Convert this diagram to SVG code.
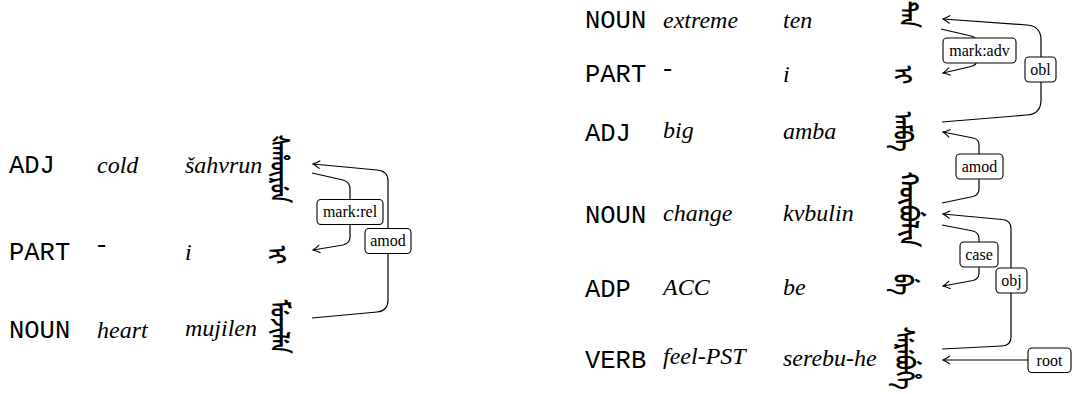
<svg xmlns="http://www.w3.org/2000/svg" width="1075" height="394" viewBox="0 0 1075 394">
<style>
.pos{font-family:"Liberation Mono","DejaVu Sans Mono",monospace;font-size:25.5px;fill:#000}
.it{font-family:"Liberation Serif","Times New Roman",serif;font-style:italic;font-size:24px;fill:#000}
.mnc{font-family:"Noto Sans Mongolian","Mongolian Baiti","Noto Sans","DejaVu Sans",sans-serif;font-size:18px;font-weight:bold;fill:#000;writing-mode:vertical-lr}
.edge{fill:none;stroke:#000;stroke-width:1.2}
.lbl rect{fill:#fff;stroke:#000;stroke-width:1.1}
.lbl text{font-family:"Liberation Serif","Times New Roman",serif;font-size:16px;text-anchor:middle;fill:#000}
</style>
<defs>
<marker id="arr" viewBox="-10 -6 12 12" refX="0" refY="0" markerWidth="12" markerHeight="12" markerUnits="userSpaceOnUse" orient="auto">
<path d="M -7 -4 Q -2.5 -1 0 0 Q -2.5 1 -7 4" fill="none" stroke="#000" stroke-width="1.1"/>
</marker>
</defs>

<!-- left sentence -->
<g id="L1">
<text class="pos" x="9" y="173">ADJ</text>
<text class="it" x="97" y="173">cold</text>
<text class="it" x="185" y="173">šahvrun</text>
<g transform="translate(286,135) scale(1.4,1)"><text class="mnc" x="0" y="0">ᡧᠠᡥᡡᡵᡠᠨ</text></g>
</g>
<g id="L2">
<text class="pos" x="9" y="260">PART</text>
<text class="pos" x="94" y="253">-</text>
<text class="it" x="185" y="260">i</text>
<g transform="translate(283,246) scale(1.4,1)"><text class="mnc" x="0" y="0">ᡳ</text></g>
</g>
<g id="L3">
<text class="pos" x="9" y="338">NOUN</text>
<text class="it" x="97" y="338">heart</text>
<text class="it" x="185" y="336">mujilen</text>
<g transform="translate(286,300) scale(1.4,1)"><text class="mnc" x="0" y="0">ᠮᡠᠵᡳᠯᡝᠨ</text></g>
</g>

<!-- right sentence -->
<g id="R1">
<text class="pos" x="585" y="28">NOUN</text>
<text class="it" x="663" y="28">extreme</text>
<text class="it" x="783" y="28">ten</text>
<g transform="translate(915,1) scale(1.4,1)"><text class="mnc" x="0" y="0">ᡨᡝᠨ</text></g>
</g>
<g id="R2">
<text class="pos" x="585" y="82">PART</text>
<text class="pos" x="660" y="77">-</text>
<text class="it" x="783" y="82">i</text>
<g transform="translate(909,66) scale(1.4,1)"><text class="mnc" x="0" y="0">ᡳ</text></g>
</g>
<g id="R3">
<text class="pos" x="585" y="141">ADJ</text>
<text class="it" x="663" y="138">big</text>
<text class="it" x="783" y="139">amba</text>
<g transform="translate(909,112) scale(1.4,1)"><text class="mnc" x="0" y="0">ᠠᠮᠪᠠ</text></g>
</g>
<g id="R4">
<text class="pos" x="585" y="223">NOUN</text>
<text class="it" x="663" y="221">change</text>
<text class="it" x="783" y="221">kvbulin</text>
<g transform="translate(915,172) scale(1.4,1.15)"><text class="mnc" x="0" y="0">ᡴᡡᠪᡠᠯᡳᠨ</text></g>
</g>
<g id="R5">
<text class="pos" x="585" y="297">ADP</text>
<text class="it" x="663" y="295">ACC</text>
<text class="it" x="783" y="295">be</text>
<g transform="translate(909,274) scale(1.4,1)"><text class="mnc" x="0" y="0">ᠪᡝ</text></g>
</g>
<g id="R6">
<text class="pos" x="585" y="368">VERB</text>
<text class="it" x="663" y="364">feel-PST</text>
<text class="it" x="783" y="366">serebu-he</text>
<g transform="translate(911,327) scale(1.4,1)"><text class="mnc" x="0" y="0">ᠰᡝᡵᡝᠪᡠᡥᡝ</text></g>
</g>

<g id="connectors">
<path class="edge" marker-end="url(#arr)" d="M 312 173 L 343 180 Q 350 182 350 189 L 350 237 Q 350 243 343 245 L 313 250"/>
<path class="edge" marker-end="url(#arr)" d="M 312 318 L 377 312 Q 388 311 388 300 L 388 181 Q 388 171 377 170 L 313 164"/>
<path class="edge" marker-end="url(#arr)" d="M 942 122 L 1027 115 Q 1041 114 1041 100 L 1041 40 Q 1041 26 1027 25 L 943 19"/>
<path class="edge" marker-end="url(#arr)" d="M 941 29 L 971 36 Q 977 37.5 977 43 L 977 60 Q 977 65 971 66.5 L 943 73"/>
<path class="edge" marker-end="url(#arr)" d="M 942 203 L 973 196.5 Q 979 195 979 189 L 979 145 Q 979 139 973 138 L 943 132"/>
<path class="edge" marker-end="url(#arr)" d="M 942 349 L 1002 346 Q 1011 345.5 1011 337 L 1011 229 Q 1011 220 1002 219.5 L 943 214"/>
<path class="edge" marker-end="url(#arr)" d="M 942 225 L 973 231 Q 979 232.5 979 239 L 979 273 Q 979 279 973 280.5 L 943 286"/>
<path class="edge" marker-end="url(#arr)" d="M 1028 360 L 943 360"/>
</g>

<g id="edge-labels">
<g class="lbl"><rect x="317" y="199.5" width="66" height="25" rx="4"/><text x="350" y="217">mark:rel</text></g>
<g class="lbl"><rect x="365" y="228.5" width="46" height="25" rx="4"/><text x="388" y="246">amod</text></g>
<g class="lbl"><rect x="943" y="38" width="73" height="25" rx="4"/><text x="979.5" y="55.5">mark:adv</text></g>
<g class="lbl"><rect x="1025" y="57" width="31" height="25" rx="4"/><text x="1040.5" y="74.5">obl</text></g>
<g class="lbl"><rect x="956" y="154" width="47" height="25" rx="4"/><text x="979.5" y="171.5">amod</text></g>
<g class="lbl"><rect x="960" y="242" width="38" height="25" rx="4"/><text x="979" y="259.5">case</text></g>
<g class="lbl"><rect x="996" y="268" width="31" height="25" rx="4"/><text x="1011.5" y="285.5">obj</text></g>
<g class="lbl"><rect x="1028" y="348" width="43" height="24.5" rx="4"/><text x="1049.5" y="365.5">root</text></g>
</g>
</svg>
